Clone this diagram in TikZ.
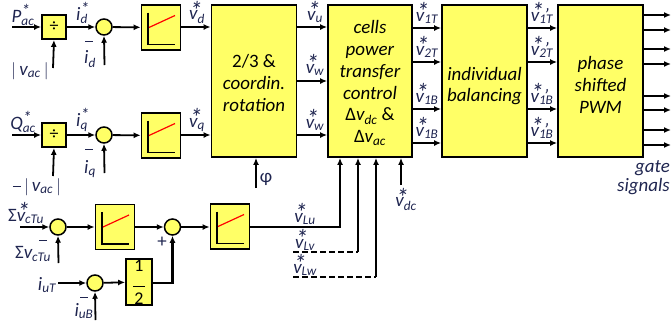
\documentclass[tikz,border=0pt]{standalone}
\usepackage{fontspec}
\setmainfont{Carlito}
\usetikzlibrary{arrows.meta}
\definecolor{byel}{HTML}{FFFF66}
\definecolor{lab}{HTML}{1F2550}
\newcommand\bigstar{\raisebox{0.04em}{\scalebox{1.35}{*}}}
\newcommand\sv[1]{\textit{\makebox[0pt][l]{\hspace{0.02em}\bigstar}v\textsubscript{#1}}}
\newcommand\svp[1]{\textit{\makebox[0pt][l]{\hspace{0.02em}\bigstar'}v\textsubscript{#1}}}
\newcommand\lss[2]{\textit{#1\makebox[0pt][l]{\textsuperscript{\scalebox{1.3}{*}}}\textsubscript{#2}}}
\newcommand\lsb[2]{\textit{#1\textsubscript{#2}}}
\tikzset{
  blk/.style={draw=black, line width=1.8bp, fill=byel, inner sep=0pt},
  sumc/.style={circle, draw=black, line width=1.5bp, fill=byel, minimum size=16bp, inner sep=0pt},
  lbl/.style={text=lab, font=\fontsize{19}{20}\selectfont, inner sep=0pt},
  sig/.style={line width=1.8bp, -{Latex[length=7bp,width=6bp]}},
  wire/.style={line width=1.8bp},
  btext/.style={font=\fontsize{19}{21.8}\selectfont, align=center, inner sep=0pt},
  pib/.style={blk, minimum width=39bp, minimum height=45bp},
  divb/.style={blk, minimum width=24bp, minimum height=24bp, font=\fontsize{18}{18}\selectfont},
  bigb/.style={blk, minimum width=85bp, minimum height=152bp}
}
\newcommand\pisym[1]{%
  \draw[line width=1.8bp] ([shift={(-13,-15)}]#1.center) -- ([shift={(-13,17)}]#1.center) -- ([shift={(14,17)}]#1.center);
  \draw[red, line width=1.2bp] ([shift={(-12,0)}]#1.center) -- ([shift={(14,-12)}]#1.center);}
\begin{document}
\begin{tikzpicture}[x=1bp,y=-1bp]
\useasboundingbox (0,0) rectangle (671,327);
% big blocks
\node[bigb] (rot) at (254,81) {};
\node[btext] (trot) at (254,83) {2/3 \&\\\textit{coordin.}\\\textit{rotation}};
\node[bigb, minimum width=84bp] (cells) at (370,81) {};
\node[btext] (tcells) at (370,83) {\textit{cells}\\\textit{power}\\\textit{transfer}\\\textit{control}\\Δ\textit{v\textsubscript{dc}} \&\\Δ\textit{v\textsubscript{ac}}};
\node[bigb] (bal) at (484.5,81) {};
\node[btext] (tbal) at (484.5,86) {\textit{individual}\\\textit{balancing}};
\node[bigb] (pwm) at (600.5,81) {};
\node[btext] (tpwm) at (600.5,85) {\textit{phase}\\\textit{shifted}\\\textit{PWM}};
% row 1
\node[divb] (div1) at (54,27) {÷};
\node[sumc] (sum1) at (104,27) {};
\node[pib] (pi1) at (161,27.5) {}; \pisym{pi1}
\coordinate (pin) at (12,27);
\coordinate (vac1) at (53,68);
\coordinate (idin) at (104.5,65);
\draw[sig] (pin) -- (div1);
\draw[sig] (vac1) -- (div1.south);
\draw[sig] (div1) -- (sum1);
\draw[sig] (idin) -- (sum1.south);
\draw[sig] (sum1) -- (pi1);
\draw[sig] (pi1.east |- sum1) -- (sum1 -| rot.west);
% row 2
\node[divb] (div2) at (54,135) {÷};
\node[sumc] (sum2) at (104,135) {};
\node[pib] (pi2) at (161,135.5) {}; \pisym{pi2}
\coordinate (qin) at (12,135);
\coordinate (vac2) at (53,176);
\coordinate (iqin) at (104.5,173);
\draw[sig] (qin) -- (div2);
\draw[sig] (vac2) -- (div2.south);
\draw[sig] (div2) -- (sum2);
\draw[sig] (iqin) -- (sum2.south);
\draw[sig] (sum2) -- (pi2);
\draw[sig] (pi2.east |- sum2) -- (sum2 -| rot.west);
% rot -> cells
\draw[sig] (rot.east |- sum1) -- (sum1 -| cells.west);
\draw[sig] (rot.east) -- (rot.east -| cells.west);
\draw[sig] (rot.east |- sum2) -- (sum2 -| cells.west);
\coordinate (phi) at (256,188);
\draw[sig] (phi) -- (phi |- rot.south);
% cells -> bal -> pwm
\foreach \y in {28,62,109,143}{
  \draw[sig] (cells.east |- 0,\y) -- (bal.west |- 0,\y);
  \draw[sig] (bal.east |- 0,\y) -- (pwm.west |- 0,\y);
}
\foreach \y in {15,30,49,64,96,110,130,145}{
  \coordinate (g\y) at (671,\y);
  \draw[sig] (pwm.east |- g\y) -- (g\y);
}
% row 3
\node[sumc] (sum3) at (58,227) {};
\node[pib] (pi3) at (115,227) {}; \pisym{pi3}
\node[sumc] (sum4) at (172.5,227) {};
\node[pib] (pi4) at (230,226.5) {}; \pisym{pi4}
\coordinate (vcin) at (20,227);
\coordinate (vcfb) at (58.5,263);
\draw[sig] (vcin) -- (sum3);
\draw[sig] (vcfb) -- (sum3.south);
\draw[sig] (sum3) -- (pi3);
\draw[sig] (pi3.east |- sum3) -- (sum4);
\draw[sig] (sum4) -- (sum4 -| pi4.west);
\coordinate (lu) at (340,227);
\draw[sig] (pi4.east |- lu) -- (lu) -- (lu |- cells.south);
\coordinate (lvs) at (293,252);
\coordinate (lvc) at (358,252);
\draw[wire, dashed, dash pattern=on 6bp off 3bp] (lvs) -- (lvc);
\draw[sig] (lvc) -- (lvc |- cells.south);
\coordinate (lws) at (293,277);
\coordinate (lwc) at (376,277);
\draw[wire, dashed, dash pattern=on 6bp off 3bp] (lws) -- (lwc);
\draw[sig] (lwc) -- (lwc |- cells.south);
\coordinate (vdc) at (401,185);
\draw[sig] (vdc) -- (vdc |- cells.south);
% row 4
\node[sumc] (sum5) at (95,283) {};
\node[blk, minimum width=26bp, minimum height=46bp, font=\fontsize{18}{19}\selectfont, align=center] (half) at (139,282) {1\\[-3pt]\rule{12bp}{0.9bp}\\[-2pt]2};
\coordinate (iut) at (58,283);
\coordinate (iub) at (95.5,320);
\draw[sig] (iut) -- (sum5);
\draw[sig] (iub) -- (sum5.south);
\draw[sig] (sum5) -- (half);
\draw[sig, line width=2.4bp] (half.east |- 0,283) -| (sum4.south);
% labels
\node[lbl] (lP) at (23,15) {\lss{P}{ac}};
\node[lbl] (lvac) at (30,71) {$|$\,\textit{v\textsubscript{ac}}\,$|$};
\node[lbl] (lid) at (82,13) {\lss{i}{d}};
\node[lbl] at (89,41) {\rule{8bp}{0.8bp}};
\node[lbl] (lidf) at (90,59) {\lsb{i}{d}};
\node[lbl] (lvd) at (197,12) {\sv{d}};
\node[lbl] (lQ) at (23,122) {\lss{Q}{ac}};
\node[lbl] (liq) at (82,120) {\lss{i}{q}};
\node[lbl] at (89,149) {\rule{8bp}{0.8bp}};
\node[lbl] (liqf) at (90,169) {\lsb{i}{q}};
\node[lbl] (lvq) at (197,120) {\sv{q}};
\node[lbl] (lvac2) at (37,187) {\rule[0.25em]{8bp}{0.8bp}\,$|$\,\textit{v\textsubscript{ac}}\,$|$};
\node[lbl] (lphi) at (266,179) {φ};
\node[lbl] (lvu) at (315,12) {\sv{u}};
\node[lbl] (lvw1) at (315,65) {\sv{w}};
\node[lbl] (lvw2) at (315,120) {\sv{w}};
\node[lbl] at (427,13) {\sv{1T}};
\node[lbl] at (427,47) {\sv{2T}};
\node[lbl] at (427,94) {\sv{1B}};
\node[lbl] at (427,128) {\sv{1B}};
\node[lbl] at (542,13) {\svp{1T}};
\node[lbl] at (542,47) {\svp{2T}};
\node[lbl] at (542,94) {\svp{1B}};
\node[lbl] at (542,128) {\svp{1B}};
\node[lbl, anchor=east] at (670,168) {\textit{gate}};
\node[lbl, anchor=east] at (670,187) {\textit{signals}};
\node[lbl] (lsvs) at (26,213) {Σ\sv{cTu}};
\node[lbl] at (43,240) {\rule{8bp}{0.8bp}};
\node[lbl] (lsv) at (33,254) {Σ\lsb{v}{cTu}};
\node[lbl] at (162,242) {+};
\node[lbl] (liut) at (47,285) {\lsb{i}{uT}};
\node[lbl] at (84,297) {\rule{8bp}{0.8bp}};
\node[lbl] (liub) at (84,311) {\lsb{i}{uB}};
\node[lbl] (lvlu) at (305,214) {\sv{Lu}};
\node[lbl] (lvlv) at (305,240) {\sv{Lv}};
\node[lbl] (lvlw) at (305,265) {\sv{Lw}};
\node[lbl] (lvdc) at (406,199) {\sv{dc}};
\end{tikzpicture}
\end{document}
